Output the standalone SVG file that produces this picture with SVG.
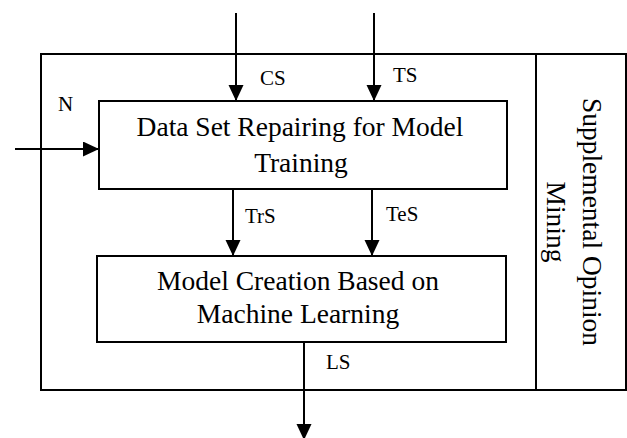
<svg xmlns="http://www.w3.org/2000/svg" width="627" height="438" viewBox="0 0 627 438">
<style>
.box{fill:#fff;stroke:#000;stroke-width:2}
.ln{stroke:#000;stroke-width:2;fill:none}
.t{font-family:"Liberation Serif","Times New Roman",serif;font-size:27.5px;fill:#000}
.lb{font-family:"Liberation Serif","Times New Roman",serif;font-size:21px;fill:#000}
</style>
<defs>
<marker id="ah" markerUnits="userSpaceOnUse" markerWidth="16" markerHeight="16" refX="16" refY="7.5" orient="auto">
<path d="M0,0 L16,7.5 L0,15 Z" fill="#000"/>
</marker>
</defs>
<rect width="627" height="438" fill="#fff"/>
<g id="outer">
<rect class="box" x="41" y="54" width="585" height="336"/>
</g>
<g id="supplemental">
<line class="ln" x1="536" y1="54" x2="536" y2="390"/>
<text class="t" text-anchor="middle" transform="translate(583,222) rotate(90)">Supplemental Opinion</text>
<text class="t" text-anchor="middle" transform="translate(547,222) rotate(90)">Mining</text>
</g>
<g id="repair">
<rect class="box" x="99" y="101" width="408" height="88"/>
<text class="t" x="300" y="136" text-anchor="middle">Data Set Repairing for Model</text>
<text class="t" x="301" y="172" text-anchor="middle">Training</text>
</g>
<g id="model">
<rect class="box" x="97" y="256" width="409" height="86"/>
<text class="t" x="298" y="290" text-anchor="middle">Model Creation Based on</text>
<text class="t" x="298" y="323" text-anchor="middle">Machine Learning</text>
</g>
<g id="connectors">
<line class="ln" x1="236" y1="13" x2="236" y2="101" marker-end="url(#ah)"/>
<line class="ln" x1="374" y1="13" x2="374" y2="101" marker-end="url(#ah)"/>
<line class="ln" x1="15" y1="149" x2="99" y2="149" marker-end="url(#ah)"/>
<line class="ln" x1="233" y1="189" x2="233" y2="256" marker-end="url(#ah)"/>
<line class="ln" x1="372" y1="189" x2="372" y2="256" marker-end="url(#ah)"/>
<line class="ln" x1="304" y1="342" x2="304" y2="440" marker-end="url(#ah)"/>
</g>
<g id="labels">
<text class="lb" x="260" y="85">CS</text>
<text class="lb" x="393" y="82">TS</text>
<text class="lb" x="58" y="111">N</text>
<text class="lb" x="245" y="223">TrS</text>
<text class="lb" x="386" y="221">TeS</text>
<text class="lb" x="326" y="369">LS</text>
</g>
</svg>
